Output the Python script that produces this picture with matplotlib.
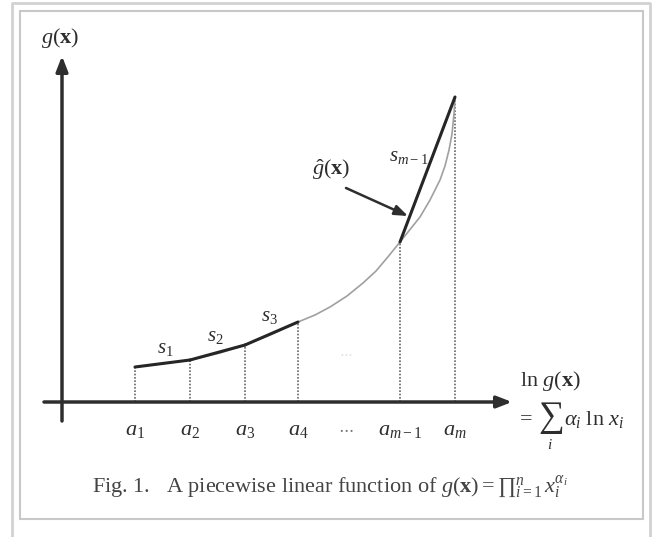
import matplotlib.pyplot as plt
from matplotlib.patches import Rectangle

plt.rcParams['mathtext.fontset'] = 'custom'
plt.rcParams['mathtext.rm'] = 'Liberation Serif'
plt.rcParams['mathtext.it'] = 'Liberation Serif:italic'
plt.rcParams['mathtext.bf'] = 'Liberation Serif:bold'
plt.rcParams['font.family'] = ['Liberation Serif', 'DejaVu Serif']

# breakpoints on the horizontal axis and the curve height there
break_x = [135, 190, 245, 298, 400, 455]
break_y = [35, 42, 57, 80, 160, 305]
break_labels = ['$a_1$', '$a_2$', '$a_3$', '$a_4$', '$a_{m-1}$', '$a_m$']

# smooth g(x) curve
curve_x = [135, 160, 190, 220, 245, 270, 298, 315, 330, 347, 363, 376, 387, 400, 420, 430, 440, 445, 449, 452, 454, 455]
curve_y = [35, 38, 42, 49, 57, 67, 80, 87, 95, 106, 119, 131, 144, 160, 185, 202, 222, 236, 252, 268, 288, 305]

# segments drawn as the piecewise approximation (indices into break_x)
segments = [(0, 1), (1, 2), (2, 3), (4, 5)]
seg_labels = ['$s_1$', '$s_2$', '$s_3$', '$s_{m-1}$']
seg_label_pos = [(165, 53), (215, 66), (269, 85), (409, 245)]

fig = plt.figure(figsize=(6.56, 5.37), dpi=100)
ax = fig.add_axes([0, 0, 1, 1])
ax.set_xlim(0, 656)
ax.set_ylim(-135, 402)
ax.axis('off')

# frames around the figure
ax.add_patch(Rectangle((20, 402 - 519), 623, 508, fill=False, edgecolor='#c8c8c8', lw=1.5))
ax.plot([12, 12, 650, 650], [-140, 399, 399, -140], color='#d2d2d2', lw=2)

ink = '#2e2e2e'

# axes with arrow heads
ax.annotate('', xy=(62, 346), xytext=(62, -19),
            arrowprops=dict(arrowstyle='-|>,head_length=0.9,head_width=0.35', color=ink, lw=2.5, shrinkA=0, shrinkB=0))
ax.annotate('', xy=(512, 0), xytext=(44, 0),
            arrowprops=dict(arrowstyle='-|>,head_length=0.9,head_width=0.35', color=ink, lw=2.5, shrinkA=0, shrinkB=0))

# dotted drop lines
for bx, by in zip(break_x, break_y):
    ax.plot([bx, bx], [0, by], color='#666666', lw=1.2, linestyle=(0, (1, 1)))

# smooth curve
ax.plot(curve_x, curve_y, color='#a0a0a0', lw=1.2)

# piecewise linear segments
for i, j in segments:
    ax.plot([break_x[i], break_x[j]], [break_y[i], break_y[j]], color='#262626', lw=2.2, solid_capstyle='round')

for lab, (lx, ly) in zip(seg_labels, seg_label_pos):
    ax.text(lx, ly, lab, fontsize=15, color=ink, ha='center', va='center')

# tick labels
for bx, lab in zip(break_x, break_labels):
    ax.text(bx, -29, lab, fontsize=16, color=ink, ha='center', va='center')
ax.text(346, -27, r'$\cdots$', fontsize=12, color='#777777', ha='center', va='center')
ax.text(346, 48, r'$\cdots$', fontsize=10, color='#dddddd', ha='center', va='center')

# axis titles
ax.text(60, 364, r'$g(\mathbf{x})$', fontsize=16, color=ink, ha='center', va='center')
ax.text(520, 21, r'$\mathrm{ln}\ g(\mathbf{x})$', fontsize=16, color=ink, ha='left', va='center')
ax.text(520, -18, '=', fontsize=16, color=ink, ha='left', va='center')
ax.text(551, -16, r'$\sum$', fontsize=26, color=ink, ha='center', va='center')
ax.text(550, -43, '$i$', fontsize=11, color=ink, ha='center', va='center')
ax.text(564, -18, r'$\alpha_i\ \mathrm{ln}\ x_i$', fontsize=16, color=ink, ha='left', va='center')

# arrow pointing to the approximation
ax.text(331, 232, r'$\hat{g}(\mathbf{x})$', fontsize=16, color=ink, ha='center', va='center')
ax.annotate('', xy=(408, 186), xytext=(346, 214),
            arrowprops=dict(arrowstyle='-|>,head_length=0.8,head_width=0.3', color=ink, lw=1.8, shrinkA=0, shrinkB=0))

# caption
ax.text(330, -85, r'Fig. 1.   A piecewise linear function of $g(\mathbf{x}) = {\prod}_{i=1}^{n}\, x_i^{\alpha_i}$',
        fontsize=16, color='#444444', ha='center', va='center')

fig.savefig('out.png', dpi=100)
